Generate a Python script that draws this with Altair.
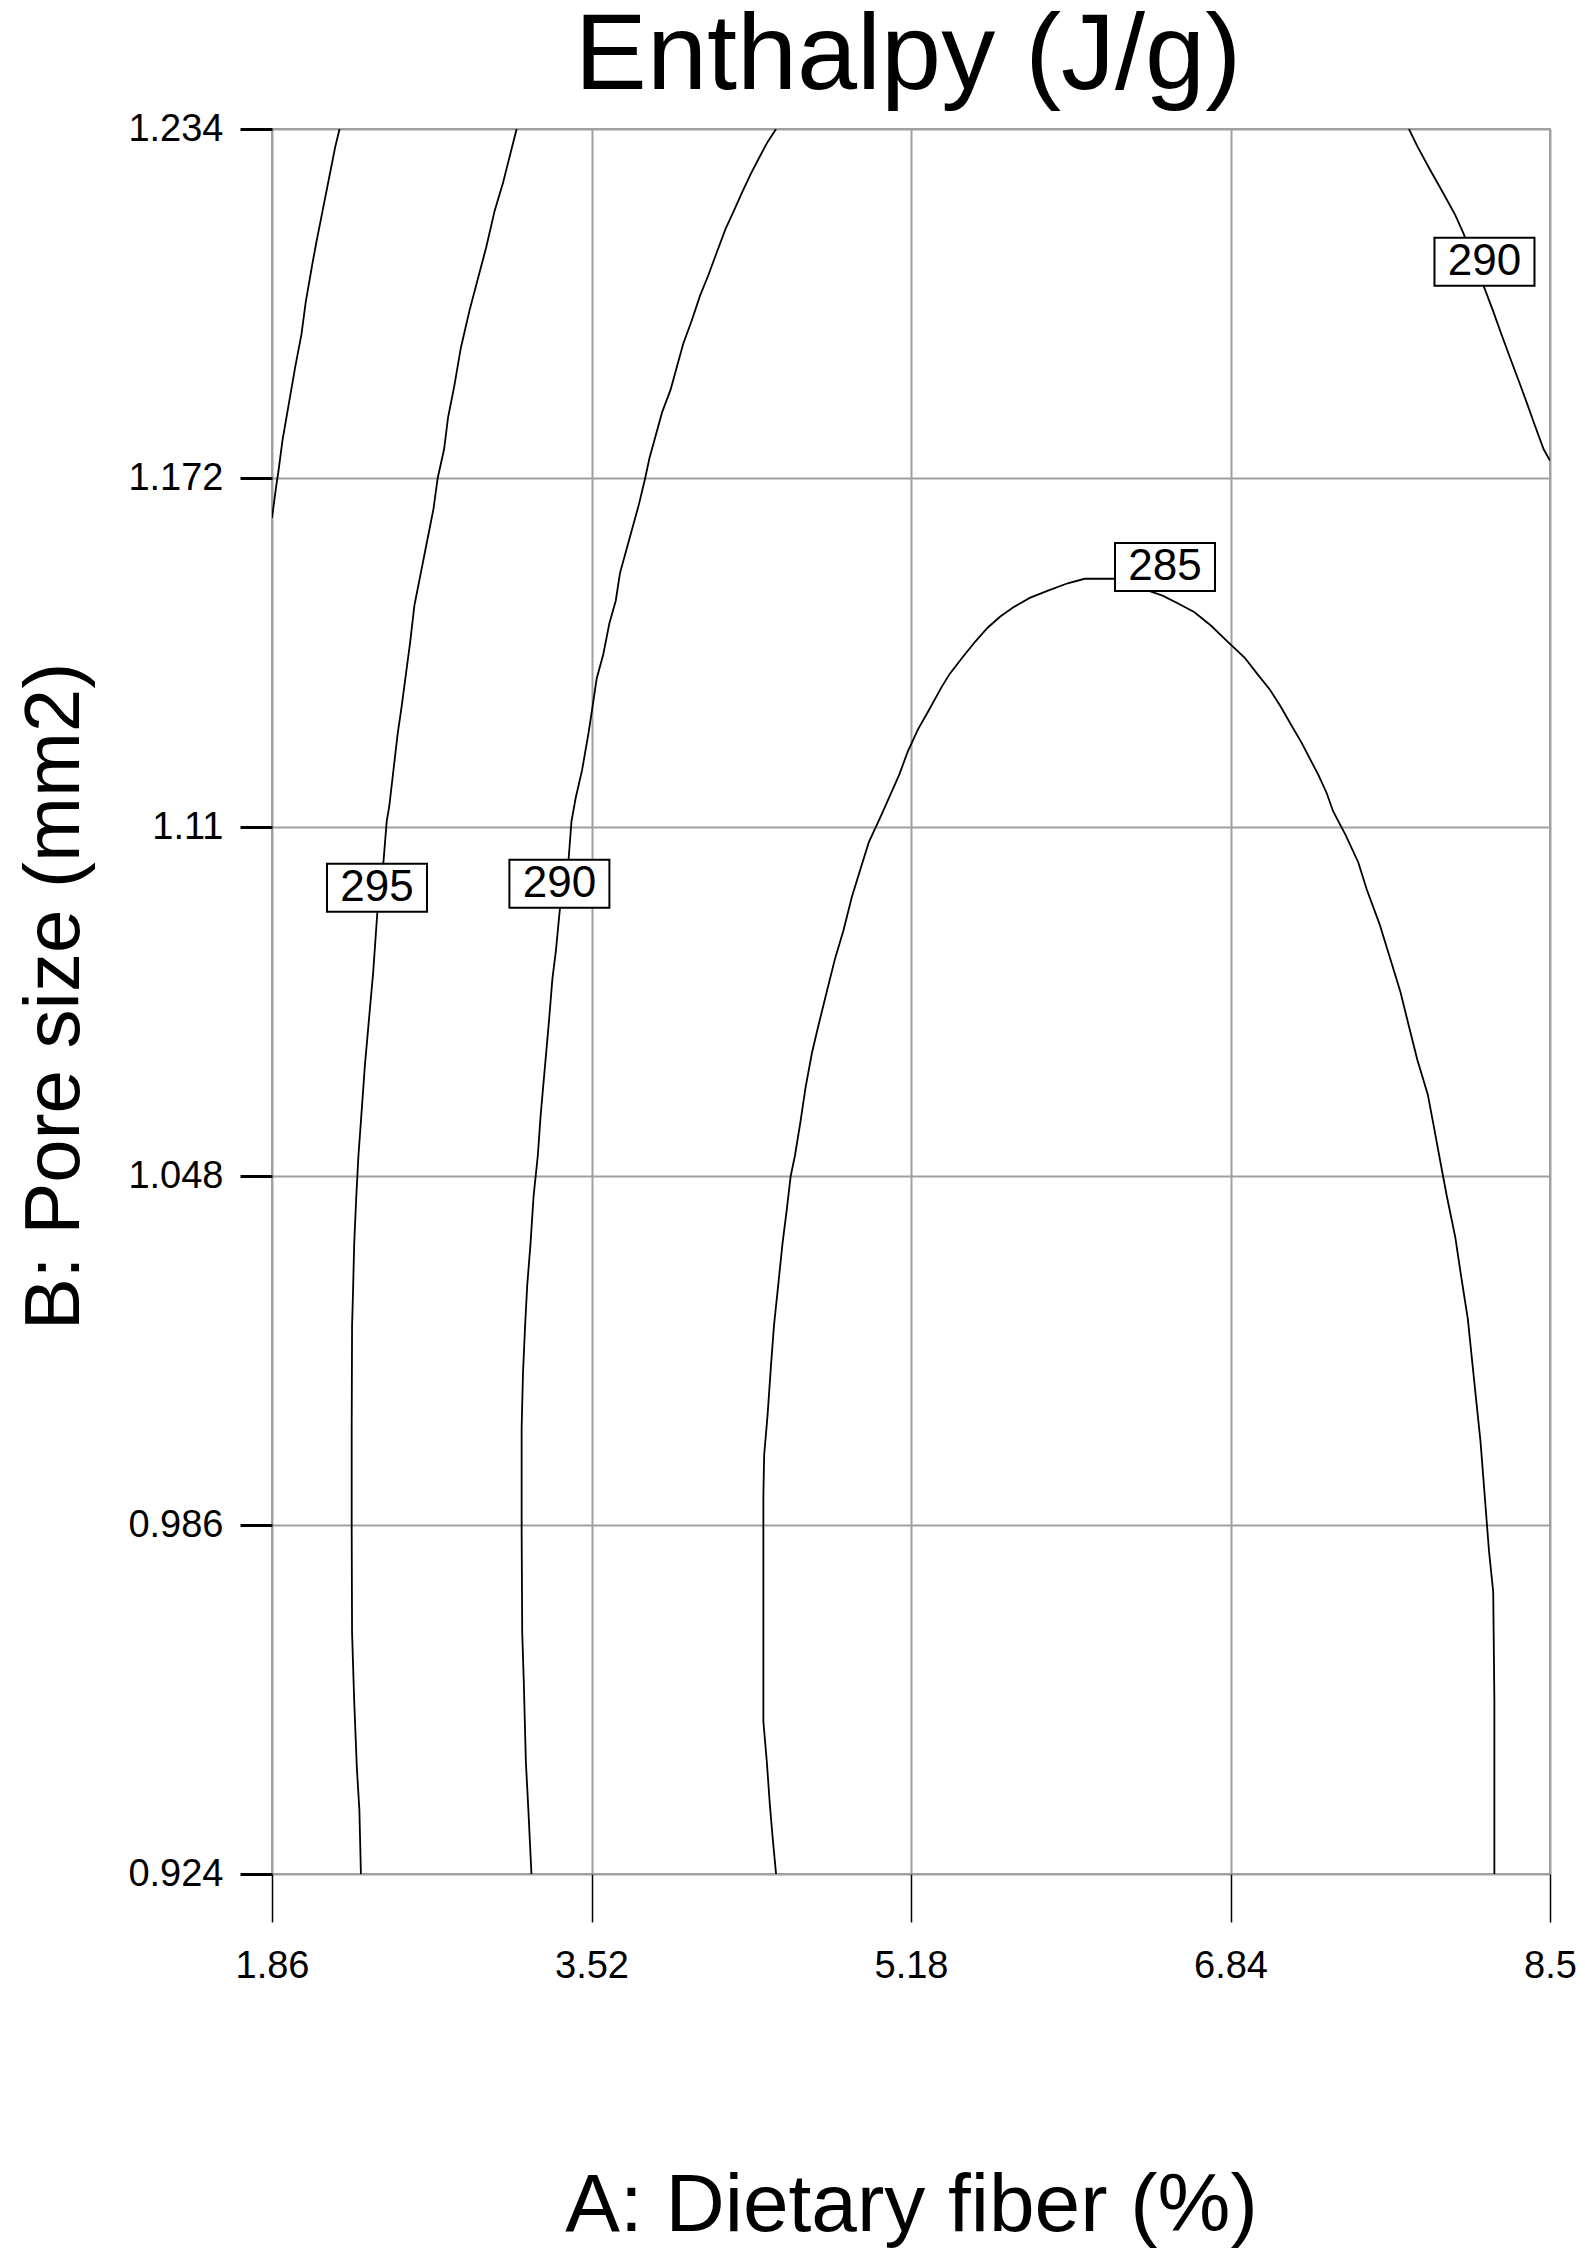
import altair as alt
import pandas as pd

# ---- axis ticks ----
x_ticks = [1.86, 3.52, 5.18, 6.84, 8.5]
y_ticks = [0.924, 0.986, 1.048, 1.11, 1.172, 1.234]

# ---- contour lines (data units) ----
c300_x = [2.211, 2.189, 2.156, 2.123, 2.090, 2.068, 2.035, 2.013, 1.981, 1.948, 1.915, 1.893, 1.882, 1.860]
c300_y = [1.234, 1.2309, 1.2252, 1.2195, 1.2138, 1.2097, 1.2032, 1.1975, 1.1918, 1.1853, 1.1788, 1.1731, 1.1706, 1.1649]

c295_x = [3.131, 3.102, 3.060, 3.017, 2.973, 2.929, 2.885, 2.841, 2.808, 2.775,
          2.754, 2.721, 2.699, 2.666, 2.633, 2.600, 2.578, 2.556, 2.534, 2.513,
          2.491, 2.469, 2.456, 2.430, 2.408, 2.386, 2.364, 2.342, 2.327, 2.309,
          2.298, 2.287, 2.281, 2.276, 2.274, 2.274, 2.276, 2.287, 2.301, 2.314,
          2.322]
c295_y = [1.234, 1.2301, 1.2244, 1.2195, 1.2130, 1.2073, 1.2016, 1.1951, 1.1885, 1.1828,
          1.1771, 1.172, 1.1665, 1.1608, 1.1551, 1.1494, 1.1429, 1.1372, 1.1315, 1.1266,
          1.1201, 1.1136, 1.1110, 1.1000, 1.0952, 1.0843, 1.0759, 1.0674, 1.0601, 1.0516,
          1.0444, 1.0359, 1.0274, 1.0214, 1.0032, 0.9850, 0.9669, 0.9548, 0.9427, 0.9354,
          0.924]

c290a_x = [4.479, 4.435, 4.391, 4.347, 4.303, 4.260, 4.216, 4.172, 4.128, 4.084,
           4.040, 3.997, 3.964, 3.931, 3.887, 3.854, 3.821, 3.799, 3.767, 3.734,
           3.701, 3.668, 3.646, 3.613, 3.580, 3.547, 3.526, 3.504, 3.471, 3.438,
           3.416, 3.401, 3.378, 3.355, 3.335, 3.317, 3.300, 3.278, 3.256, 3.241,
           3.219, 3.203, 3.186, 3.175, 3.164, 3.157, 3.157, 3.160, 3.168, 3.179,
           3.192, 3.208]
c290a_y = [1.234, 1.2317, 1.2289, 1.2260, 1.2228, 1.2195, 1.2162, 1.2122, 1.2081, 1.2044,
           1.1999, 1.1959, 1.1918, 1.1877, 1.1837, 1.1796, 1.1755, 1.172, 1.1674, 1.1633,
           1.1592, 1.1551, 1.1502, 1.1462, 1.1405, 1.1364, 1.1315, 1.1266, 1.1201, 1.1152,
           1.1110, 1.1043, 1.1000, 1.0952, 1.0880, 1.0831, 1.0759, 1.0674, 1.0589, 1.0516,
           1.0444, 1.0359, 1.0286, 1.0214, 1.0129, 1.0032, 0.9850, 0.9669, 0.9584, 0.9439,
           0.9354, 0.924]

c285_x = [4.479, 4.461, 4.446, 4.431, 4.413, 4.413, 4.413, 4.413, 4.417, 4.435,
          4.452, 4.468, 4.490, 4.512, 4.534, 4.555, 4.577, 4.606, 4.632, 4.665,
          4.698, 4.742, 4.786, 4.829, 4.873, 4.917, 4.961, 5.027,
          5.119, 5.163, 5.217, 5.272, 5.338, 5.381, 5.447, 5.513, 5.578, 5.644,
          5.710, 5.797, 5.885, 5.994, 6.082, 6.235, 6.487, 6.563, 6.651, 6.738,
          6.826, 6.913, 6.979, 7.045, 7.099, 7.154, 7.209, 7.253, 7.296, 7.340,
          7.373, 7.439, 7.504, 7.548, 7.614, 7.668, 7.723, 7.767, 7.811, 7.865,
          7.898, 7.931, 7.964, 8.008, 8.040, 8.073, 8.095, 8.117, 8.139, 8.161,
          8.183, 8.205, 8.211, 8.211]
c285_y = [0.924, 0.9305, 0.9366, 0.9439, 0.9511, 0.9669, 0.9790, 0.9911, 0.9984, 1.0056,
          1.0141, 1.0214, 1.0286, 1.0359, 1.0419, 1.0480, 1.0516, 1.0577, 1.0637, 1.0698,
          1.0746, 1.0807, 1.0867, 1.0916, 1.0976, 1.1025, 1.1073, 1.1122,
          1.1193, 1.1234, 1.1274, 1.1307, 1.1348, 1.1372, 1.1401, 1.1429, 1.1454, 1.1474,
          1.1490, 1.1507, 1.1519, 1.1533, 1.1541, 1.1541, 1.1511, 1.1498, 1.1482, 1.1458,
          1.1429, 1.1401, 1.1372, 1.1344, 1.1315, 1.1282, 1.1250, 1.1221, 1.1193, 1.1160,
          1.1128, 1.1085, 1.1037, 1.0989, 1.0928, 1.0868, 1.0807, 1.0746, 1.0686, 1.0625,
          1.0565, 1.0504, 1.0444, 1.0371, 1.0298, 1.0226, 1.0153, 1.0080, 1.0008, 0.9911,
          0.9814, 0.9741, 0.9548, 0.924]

c290b_x = [7.767, 7.811, 7.876, 7.942, 8.008, 8.051, 8.106, 8.161, 8.205, 8.248,
           8.292, 8.336, 8.380, 8.423, 8.467, 8.5]
c290b_y = [1.234, 1.2309, 1.2268, 1.2228, 1.2187, 1.2154, 1.2104, 1.2056, 1.2016, 1.1975,
           1.1934, 1.1894, 1.1853, 1.1812, 1.1771, 1.1751]

# ---- contour labels ----
label_text = ["295", "290", "285", "290"]
label_x = [2.4055, 3.3532, 6.4997, 8.1596]
label_y = [1.0992, 1.0999, 1.1562, 1.2104]

chart_title = "Enthalpy (J/g)"

contours = [("300", c300_x, c300_y), ("295", c295_x, c295_y), ("290a", c290a_x, c290a_y),
            ("285", c285_x, c285_y), ("290b", c290b_x, c290b_y)]
rows = []
for name, xs, ys in contours:
    for i, (a, b) in enumerate(zip(xs, ys)):
        rows.append({"contour": name, "i": i, "x": a, "y": b})
lines_df = pd.DataFrame(rows)
labels_df = pd.DataFrame({"x": label_x, "y": label_y, "text": label_text})
title_df = pd.DataFrame({"t": [chart_title]})

FONT = "Liberation Sans"
W, H = 1278, 1745
xscale = alt.Scale(domain=[1.86, 8.5], nice=False, zero=False)
yscale = alt.Scale(domain=[0.924, 1.234], nice=False, zero=False)

xaxis = alt.Axis(values=x_ticks, labelExpr="format(datum.value, '.3~f')",
                 title="A: Dietary fiber (%)", tickSize=48, tickWidth=1.5,
                 labelPadding=25, labelFlush=False, titleFontSize=82,
                 titleBaseline="alphabetic", titleY=356, grid=True)
yaxis = alt.Axis(values=y_ticks, labelExpr="format(datum.value, '.3~f')",
                 title="B: Pore size  (mm2)", tickSize=32, tickWidth=3,
                 labelPadding=17, labelFlush=False, titleFontSize=78,
                 titleBaseline="alphabetic", titleX=-194, titleY=867, grid=True)

X = alt.X("x:Q", scale=xscale, axis=xaxis)
Y = alt.Y("y:Q", scale=yscale, axis=yaxis)

lines = alt.Chart(lines_df).mark_line(color="black", strokeWidth=1.8, clip=True).encode(
    x=X, y=Y, detail="contour:N", order="i:Q")
boxes = alt.Chart(labels_df).mark_rect(width=100, height=48, fill="white", stroke="black",
                                       strokeWidth=2).encode(x=X, y=Y)
texts = alt.Chart(labels_df).mark_text(fontSize=44, font=FONT, color="black",
                                       baseline="middle", align="center").encode(
    x=X, y=Y, text="text:N")
title = alt.Chart(title_df).mark_text(fontSize=108, font=FONT, color="black",
                                      baseline="alphabetic", align="center").encode(
    x=alt.value(W / 2 - 3), y=alt.value(-40), text="t:N")

chart = alt.layer(lines, boxes, texts, title).properties(
    width=W, height=H,
    autosize=alt.AutoSizeParams(type="none"),
    padding={"left": 264, "top": 121, "right": 27, "bottom": 374},
).configure_view(stroke="#a0a0a0", strokeWidth=2).configure_axis(
    domain=False, gridColor="#a0a0a0", gridWidth=2, gridOpacity=1,
    tickColor="black", labelFont=FONT, labelFontSize=38, labelColor="black",
    titleFont=FONT, titleFontWeight="normal", titleColor="black")

chart.save("out.html", embed_options={"renderer": "svg", "actions": False})
